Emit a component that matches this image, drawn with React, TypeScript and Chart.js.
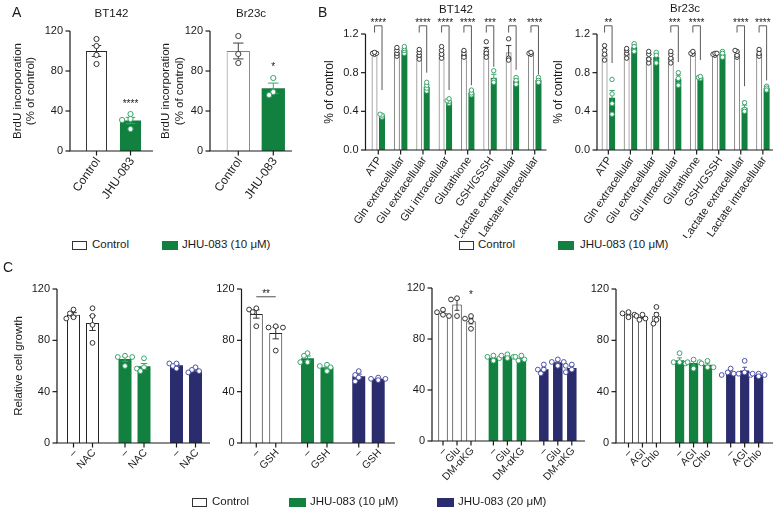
import React, { useEffect, useRef } from 'react';
import { Chart, registerables } from 'chart.js';

Chart.register(...registerables);

const FONT = '"Liberation Sans", Arial, Helvetica, sans-serif';
const INK = '#1a1a1a';

// ---------------- Panel A: BrdU incorporation (% of control) ----------------
const brduCategories = ['Control', 'JHU-083'];
const brduTicks = [0, 40, 80, 120];
const bt142BrduControl = [112, 105, 96, 87];
const bt142BrduJhu = [37, 32, 31, 22];
const br23cBrduControl = [115, 97, 88];
const br23cBrduJhu = [73, 59, 56];
const bt142BrduStars = [{ cat: 1, text: '****', at: 50 }];
const br23cBrduStars = [{ cat: 1, text: '*', at: 87 }];

// ---------------- Panel B: metabolites (% of control) ----------------
const metabolites = [
  'ATP', 'Gln extracellular', 'Glu extracellular', 'Glu intracellular',
  'Glutathione', 'GSH/GSSH', 'Lactate extracellular', 'Lactate intracellular',
];
const metTicks = [0, 0.4, 0.8, 1.2];
const bt142MetControl = [
  [0.99, 1.0, 1.0, 1.01], [0.97, 1.0, 1.03, 1.06], [0.94, 0.98, 1.01, 1.04], [0.95, 0.99, 1.03, 1.07],
  [0.96, 1.0, 1.03], [1.12, 1.03, 1.0, 0.96], [1.15, 0.95, 0.93], [0.99, 1.0, 1.01],
];
const bt142MetJhu = [
  [0.34, 0.36, 0.37], [1.0, 1.03, 1.05, 1.07], [0.61, 0.64, 0.67, 0.7], [0.48, 0.5, 0.51, 0.53],
  [0.57, 0.59, 0.62], [0.82, 0.72, 0.7], [0.75, 0.72, 0.68], [0.75, 0.72, 0.7],
];
const bt142MetStars = ['****', '', '****', '****', '****', '***', '**', '****'];
const bt142MetDrop = [0.62, 0, 0.8, 0.62, 0.67, 0.86, 0.83, 0.78];
const br23cMetControl = [
  [1.08, 1.03, 0.99, 0.93], [0.95, 1.0, 1.03, 1.05], [0.9, 0.94, 0.99, 1.02], [0.9, 0.95, 0.99, 1.02],
  [0.99, 1.0, 1.02], [0.98, 0.99, 1.0, 1.0], [0.96, 0.98, 1.02, 1.03], [0.97, 1.0, 1.04],
];
const br23cMetJhu = [
  [0.73, 0.58, 0.48, 0.37], [1.1, 1.07, 1.02], [1.01, 0.98, 0.9], [0.8, 0.74, 0.67],
  [0.74, 0.75, 0.76], [1.02, 1.0, 0.96], [0.49, 0.42, 0.4], [0.66, 0.64, 0.62],
];
const br23cMetStars = ['**', '', '', '***', '****', '', '****', '****'];
const br23cMetDrop = [0.9, 0, 0, 0.91, 0.93, 0, 0.66, 0.72];
const bracketTop = 1.285;
const bracketLeftEnd = 1.215;
const bracketStarLevel = 1.34;

// ---------------- Panel C: relative cell growth ----------------
const growthTicks = [0, 40, 80, 120];
const cGroups = ['Control', 'JHU-083 (10 μM)', 'JHU-083 (20 μM)'];
const nacTreatments = ['–', 'NAC'];
const nacControl = [[104, 101, 98, 97], [105, 99, 92, 78]];
const nacJhu10 = [[68, 67, 67, 60], [66, 59, 58, 56]];
const nacJhu20 = [[62, 62, 60, 58], [59, 57, 56, 55]];
const gshTreatments = ['–', 'GSH'];
const gshControl = [[105, 104, 102, 91], [91, 90, 90, 72]];
const gshJhu10 = [[70, 68, 63, 63], [61, 60, 59, 56]];
const gshJhu20 = [[56, 53, 51, 48], [51, 50, 50, 49]];
const gshSig = [{ cat: 0, from: 0, to: 1, text: '**', at: 114, starAt: 118 }];
const akgTreatments = ['–', 'Glu', 'DM-αKG'];
const akgControl = [[103, 101, 99, 98], [112, 111, 98], [98, 96, 94, 88]];
const akgJhu10 = [[67, 66, 65, 63], [68, 67, 66, 65], [67, 66, 64, 63]];
const akgJhu20 = [[60, 56, 56, 53], [64, 62, 62, 59], [60, 59, 56, 54]];
const akgStars = [{ cat: 0, series: 2, text: '*', at: 117 }];
const agiTreatments = ['–', 'AGI', 'Chlo'];
const agiControl = [[102, 101, 100, 98], [100, 99, 97, 96], [106, 100, 96, 93]];
const agiJhu10 = [[70, 63, 63, 62], [65, 63, 63, 58], [64, 62, 59, 59]];
const agiJhu20 = [[58, 55, 54, 53], [64, 55, 54, 53], [54, 54, 53, 52]];

// ---------------- helpers ----------------
const mean = (a: number[]) => a.reduce((s, v) => s + v, 0) / a.length;
const sem = (a: number[]) => {
  if (a.length < 2) return 0;
  const m = mean(a);
  const sd = Math.sqrt(a.reduce((s, v) => s + (v - m) * (v - m), 0) / (a.length - 1));
  return sd / Math.sqrt(a.length);
};

type Style = { fill: string; edge: string; bw: number; mark: string };
const ST: Record<string, Style> = {
  ctrlDark: { fill: '#ffffff', edge: '#262626', bw: 1, mark: '#333333' },
  ctrlGray: { fill: '#ffffff', edge: '#808080', bw: 1, mark: '#404040' },
  ctrlB: { fill: '#ffffff', edge: '#8c8c8c', bw: 1.2, mark: '#3a3a3a' },
  green: { fill: '#12803e', edge: '#12803e', bw: 0, mark: '#3aa56a' },
  navy: { fill: '#2b2c6d', edge: '#2b2c6d', bw: 0, mark: '#4d51a8' },
};

type Series = { label: string; points: number[][]; styles: Style[] };
type Spec = {
  key: string;
  box: { left: number; top: number; width: number; height: number };
  area: { left: number; right: number; top: number; bottom: number };
  axisX: number; axisEnd: number;
  labels: string[]; xMode: 'category' | 'bar';
  series: Series[];
  catPct: number; barPct: number;
  yTicks: number[]; yDec: number;
  title?: string; titleY?: number;
  yTitle?: string[]; yTitleX?: number[]; yTitleFs?: number;
  tickFs: number; xFs: number; rot: number;
  r: number; step: number; gap: number; capFrac: number;
  sig: any[];
};

function drawStars(ctx: CanvasRenderingContext2D, text: string, x: number, yc: number, fs: number) {
  ctx.font = `${fs}px ${FONT}`;
  ctx.fillStyle = INK;
  ctx.textAlign = 'center';
  ctx.textBaseline = 'alphabetic';
  ctx.fillText(text, x, yc + 0.58 * fs);
}

function makeFig(spec: Spec) {
  return {
    id: 'fig_' + spec.key,
    afterDatasetsDraw(chart: any) {
      const ctx: CanvasRenderingContext2D = chart.ctx;
      const xs = chart.scales.x;
      const ys = chart.scales.y;
      const ox = spec.box.left;
      const oy = spec.box.top;
      const ax = spec.axisX - ox;
      const ae = spec.axisEnd - ox;
      const y0 = ys.getPixelForValue(0);
      const yTop = ys.getPixelForValue(spec.yTicks[spec.yTicks.length - 1]);
      const barAt = (si: number, ci: number) => chart.getDatasetMeta(si).data[ci];
      ctx.save();

      // error bars (mean ± SEM)
      spec.series.forEach((s, si) => s.points.forEach((pts, ci) => {
        const bar = barAt(si, ci);
        const m = mean(pts);
        const e = sem(pts);
        if (!e) return;
        const hi = ys.getPixelForValue(m + e);
        const lo = ys.getPixelForValue(m - e);
        const cw = (bar.width * spec.capFrac) / 2;
        ctx.strokeStyle = s.styles[ci].mark;
        ctx.lineWidth = 1;
        ctx.beginPath();
        ctx.moveTo(bar.x, hi); ctx.lineTo(bar.x, lo);
        ctx.moveTo(bar.x - cw, hi); ctx.lineTo(bar.x + cw, hi);
        ctx.moveTo(bar.x - cw, lo); ctx.lineTo(bar.x + cw, lo);
        ctx.stroke();
      }));

      // individual replicate points (simple swarm)
      spec.series.forEach((s, si) => s.points.forEach((pts, ci) => {
        const bar = barAt(si, ci);
        const placed: { dx: number; py: number }[] = [];
        pts.forEach((v) => {
          const py = ys.getPixelForValue(v);
          for (const k of [0, -1, 1, -2, 2, -3, 3]) {
            const dx = k * spec.step;
            if (placed.every((p) => Math.hypot(p.dx - dx, p.py - py) >= spec.gap)) {
              placed.push({ dx, py });
              return;
            }
          }
          placed.push({ dx: 0, py });
        });
        ctx.lineWidth = 1;
        ctx.strokeStyle = s.styles[ci].mark;
        ctx.fillStyle = '#ffffff';
        placed.forEach((p) => {
          ctx.beginPath();
          ctx.arc(bar.x + p.dx, p.py, spec.r, 0, Math.PI * 2);
          ctx.fill();
          ctx.stroke();
        });
      }));

      // axes
      ctx.strokeStyle = INK;
      ctx.lineWidth = 1.2;
      ctx.beginPath();
      ctx.moveTo(ax, y0 + 0.6);
      ctx.lineTo(ax, yTop);
      ctx.moveTo(ax - 0.6, y0);
      ctx.lineTo(ae, y0);
      ctx.stroke();

      // y ticks
      ctx.font = `${spec.tickFs}px ${FONT}`;
      ctx.fillStyle = INK;
      ctx.textAlign = 'right';
      ctx.textBaseline = 'middle';
      ys.ticks.forEach((t: any) => {
        const py = ys.getPixelForValue(t.value);
        ctx.beginPath();
        ctx.moveTo(ax - 4.5, py);
        ctx.lineTo(ax, py);
        ctx.stroke();
        ctx.fillText(Number(t.value).toFixed(spec.yDec), ax - 7, py);
      });

      // x ticks + rotated labels
      const xTicks: { x: number; text: string }[] = [];
      if (spec.xMode === 'category') {
        spec.labels.forEach((l, i) => xTicks.push({ x: xs.getPixelForValue(i), text: l }));
      } else {
        spec.labels.forEach((_, ci) => spec.series.forEach((s, si) => xTicks.push({ x: barAt(si, ci).x, text: s.label })));
      }
      ctx.font = `${spec.xFs}px ${FONT}`;
      xTicks.forEach((t) => {
        ctx.beginPath();
        ctx.moveTo(t.x, y0);
        ctx.lineTo(t.x, y0 + 4.5);
        ctx.stroke();
        ctx.save();
        ctx.translate(t.x + 1.5, y0 + 8);
        ctx.rotate((-spec.rot * Math.PI) / 180);
        ctx.textAlign = 'right';
        ctx.textBaseline = 'middle';
        ctx.fillText(t.text, 0, 0);
        ctx.restore();
      });

      // chart title
      if (spec.title) {
        ctx.font = `${11.5}px ${FONT}`;
        ctx.textAlign = 'center';
        ctx.textBaseline = 'middle';
        ctx.fillText(spec.title, (ax + ae) / 2, (spec.titleY as number) - oy);
      }

      // y title
      if (spec.yTitle) {
        ctx.font = `${spec.yTitleFs}px ${FONT}`;
        spec.yTitle.forEach((line, i) => {
          ctx.save();
          ctx.translate((spec.yTitleX as number[])[i] - ox, (y0 + yTop) / 2);
          ctx.rotate(-Math.PI / 2);
          ctx.textAlign = 'center';
          ctx.textBaseline = 'middle';
          ctx.fillText(line, 0, 0);
          ctx.restore();
        });
      }

      // significance marks
      spec.sig.forEach((g: any) => {
        if (g.kind === 'star') {
          const bar = barAt(g.si, g.ci);
          drawStars(ctx, g.text, bar.x, ys.getPixelForValue(g.at), 10);
        } else if (g.kind === 'bracket') {
          const l = barAt(0, g.ci).x;
          const r = barAt(1, g.ci).x;
          const top = ys.getPixelForValue(bracketTop);
          ctx.strokeStyle = '#5a5a5a';
          ctx.lineWidth = 1;
          ctx.beginPath();
          ctx.moveTo(l, ys.getPixelForValue(bracketLeftEnd));
          ctx.lineTo(l, top);
          ctx.lineTo(r, top);
          ctx.lineTo(r, ys.getPixelForValue(g.drop));
          ctx.stroke();
          drawStars(ctx, g.text, (l + r) / 2, ys.getPixelForValue(bracketStarLevel), 10);
        } else if (g.kind === 'line') {
          const l = barAt(g.from, g.ci).x;
          const r = barAt(g.to, g.ci).x;
          const py = ys.getPixelForValue(g.at);
          ctx.strokeStyle = '#7a7a7a';
          ctx.lineWidth = 1.3;
          ctx.beginPath();
          ctx.moveTo(l, py);
          ctx.lineTo(r, py);
          ctx.stroke();
          drawStars(ctx, g.text, (l + r) / 2, ys.getPixelForValue(g.starAt), 10);
        }
      });
      ctx.restore();
    },
  };
}

function buildConfig(spec: Spec): any {
  const { box, area } = spec;
  return {
    type: 'bar',
    data: {
      labels: spec.labels,
      datasets: spec.series.map((s) => ({
        label: s.label,
        data: s.points.map(mean),
        backgroundColor: s.styles.map((st) => st.fill),
        borderColor: s.styles.map((st) => st.edge),
        borderWidth: s.styles.map((st) => st.bw),
        borderSkipped: 'start',
        categoryPercentage: spec.catPct,
        barPercentage: spec.barPct,
      })),
    },
    options: {
      responsive: false,
      animation: false,
      devicePixelRatio: 1,
      events: [],
      layout: {
        padding: {
          left: area.left - box.left,
          right: box.left + box.width - area.right,
          top: area.top - box.top,
          bottom: box.top + box.height - area.bottom,
        },
      },
      scales: {
        x: { type: 'category', display: false, offset: true, grid: { display: false } },
        y: {
          type: 'linear',
          display: false,
          min: spec.yTicks[0],
          max: spec.yTicks[spec.yTicks.length - 1],
          afterBuildTicks: (s: any) => { s.ticks = spec.yTicks.map((v) => ({ value: v })); },
        },
      },
      plugins: { legend: { display: false }, tooltip: { enabled: false }, title: { display: false } },
    },
    plugins: [makeFig(spec)],
  };
}

function ChartBox({ spec }: { spec: Spec }) {
  const ref = useRef<HTMLCanvasElement>(null);
  useEffect(() => {
    const chart = new Chart(ref.current as HTMLCanvasElement, buildConfig(spec));
    return () => chart.destroy();
  }, []);
  const { left, top, width, height } = spec.box;
  return (
    <canvas
      ref={ref}
      width={width}
      height={height}
      style={{ position: 'absolute', left, top, width, height }}
    />
  );
}

const brackets = (stars: string[], drops: number[]) =>
  stars.map((t, i) => (t ? { kind: 'bracket', ci: i, text: t, drop: drops[i] } : null)).filter(Boolean);

const cSeries = (treat: string[], ctrl: number[][], j10: number[][], j20: number[][]): Series[] =>
  treat.map((t, ti) => ({ label: t, points: [ctrl[ti], j10[ti], j20[ti]], styles: [ST.ctrlDark, ST.green, ST.navy] }));

const base = { tickFs: 11, capFrac: 0.5 };

const specs: Spec[] = [
  {
    ...base, key: 'a1',
    box: { left: 0, top: 0, width: 160, height: 235 },
    area: { left: 79.5, right: 147.5, top: 31, bottom: 151 },
    axisX: 70, axisEnd: 153,
    labels: brduCategories, xMode: 'category',
    series: [{ label: 'BT142', points: [bt142BrduControl, bt142BrduJhu], styles: [ST.ctrlDark, ST.green] }],
    catPct: 1, barPct: 0.62, yTicks: brduTicks, yDec: 0,
    title: 'BT142', titleY: 14,
    yTitle: ['BrdU incorporation', '(% of control)'], yTitleX: [18, 31], yTitleFs: 11.5,
    xFs: 12, rot: 55, r: 2.6, step: 4.2, gap: 4.8, capFrac: 0.45,
    sig: bt142BrduStars.map((s) => ({ kind: 'star', si: 0, ci: s.cat, text: s.text, at: s.at })),
  },
  {
    ...base, key: 'a2',
    box: { left: 150, top: 0, width: 150, height: 235 },
    area: { left: 220.8, right: 290.8, top: 31, bottom: 151 },
    axisX: 210, axisEnd: 292,
    labels: brduCategories, xMode: 'category',
    series: [{ label: 'Br23c', points: [br23cBrduControl, br23cBrduJhu], styles: [ST.ctrlGray, ST.green] }],
    catPct: 1, barPct: 0.666, yTicks: brduTicks, yDec: 0,
    title: 'Br23c', titleY: 14,
    yTitle: ['BrdU incorporation', '(% of control)'], yTitleX: [166, 179.5], yTitleFs: 11.5,
    xFs: 12, rot: 55, r: 2.6, step: 4.2, gap: 4.8, capFrac: 0.45,
    sig: br23cBrduStars.map((s) => ({ kind: 'star', si: 0, ci: s.cat, text: s.text, at: s.at })),
  },
  {
    ...base, key: 'b1',
    box: { left: 318, top: 0, width: 232, height: 238 },
    area: { left: 367.1, right: 545.9, top: 34, bottom: 150 },
    axisX: 365.5, axisEnd: 546.5,
    labels: metabolites, xMode: 'category',
    series: [
      { label: 'Control', points: bt142MetControl, styles: metabolites.map(() => ST.ctrlB) },
      { label: 'JHU-083', points: bt142MetJhu, styles: metabolites.map(() => ST.green) },
    ],
    catPct: 0.67, barPct: 0.8, yTicks: metTicks, yDec: 1,
    title: 'BT142', titleY: 9.5,
    yTitle: ['% of control'], yTitleX: [330], yTitleFs: 12,
    xFs: 11, rot: 55, r: 2.2, step: 1, gap: 1.8, capFrac: 0.9,
    sig: brackets(bt142MetStars, bt142MetDrop),
  },
  {
    ...base, key: 'b2',
    box: { left: 540, top: 0, width: 234, height: 238 },
    area: { left: 597.3, right: 773.9, top: 34, bottom: 150 },
    axisX: 597, axisEnd: 773,
    labels: metabolites, xMode: 'category',
    series: [
      { label: 'Control', points: br23cMetControl, styles: metabolites.map(() => ST.ctrlB) },
      { label: 'JHU-083', points: br23cMetJhu, styles: metabolites.map(() => ST.green) },
    ],
    catPct: 0.68, barPct: 0.8, yTicks: metTicks, yDec: 1,
    title: 'Br23c', titleY: 9,
    yTitle: ['% of control'], yTitleX: [558.5], yTitleFs: 12,
    xFs: 11, rot: 55, r: 2.2, step: 1, gap: 1.8, capFrac: 0.9,
    sig: brackets(br23cMetStars, br23cMetDrop),
  },
  {
    ...base, key: 'c1',
    box: { left: 0, top: 258, width: 215, height: 232 },
    area: { left: 57.25, right: 211.75, top: 289, bottom: 443 },
    axisX: 57, axisEnd: 210,
    labels: cGroups, xMode: 'bar',
    series: cSeries(nacTreatments, nacControl, nacJhu10, nacJhu20),
    catPct: 0.738, barPct: 0.684, yTicks: growthTicks, yDec: 0,
    yTitle: ['Relative cell growth'], yTitleX: [18.5], yTitleFs: 11.5,
    xFs: 10.5, rot: 47, r: 2.4, step: 3.6, gap: 4.2,
    sig: [],
  },
  {
    ...base, key: 'c2',
    box: { left: 205, top: 258, width: 195, height: 232 },
    area: { left: 240.4, right: 394.1, top: 289, bottom: 443 },
    axisX: 241.5, axisEnd: 395,
    labels: cGroups, xMode: 'bar',
    series: cSeries(gshTreatments, gshControl, gshJhu10, gshJhu20),
    catPct: 0.76, barPct: 0.667, yTicks: growthTicks, yDec: 0,
    xFs: 10.5, rot: 47, r: 2.4, step: 3.6, gap: 4.2,
    sig: gshSig.map((s) => ({ kind: 'line', ci: s.cat, from: s.from, to: s.to, text: s.text, at: s.at, starAt: s.starAt })),
  },
  {
    ...base, key: 'c3',
    box: { left: 395, top: 258, width: 195, height: 232 },
    area: { left: 431.8, right: 583, top: 288, bottom: 441 },
    axisX: 432, axisEnd: 585,
    labels: cGroups, xMode: 'bar',
    series: cSeries(akgTreatments, akgControl, akgJhu10, akgJhu20),
    catPct: 0.833, barPct: 0.68, yTicks: growthTicks, yDec: 0,
    xFs: 10.5, rot: 47, r: 2.4, step: 3, gap: 4,
    sig: akgStars.map((s) => ({ kind: 'star', si: s.series, ci: s.cat, text: s.text, at: s.at })),
  },
  {
    ...base, key: 'c4',
    box: { left: 580, top: 258, width: 194, height: 232 },
    area: { left: 616.9, right: 770.2, top: 289, bottom: 443 },
    axisX: 616, axisEnd: 773,
    labels: cGroups, xMode: 'bar',
    series: cSeries(agiTreatments, agiControl, agiJhu10, agiJhu20),
    catPct: 0.82, barPct: 0.66, yTicks: growthTicks, yDec: 0,
    xFs: 10.5, rot: 47, r: 2.4, step: 3, gap: 4,
    sig: [],
  },
];

const LEG_FS = 11.5;

function LegendItem({ x, cy, w, fill, outline, text, tx }: any) {
  const h = 9;
  return (
    <>
      <div
        style={{
          position: 'absolute', left: x, top: cy - h / 2, width: w, height: h, boxSizing: 'border-box',
          background: fill, border: outline ? `1px solid ${outline}` : 'none',
        }}
      />
      <div
        style={{
          position: 'absolute', left: tx, top: cy - 0.49 * LEG_FS, fontSize: LEG_FS, lineHeight: `${LEG_FS}px`,
          whiteSpace: 'nowrap', color: INK,
        }}
      >
        {text}
      </div>
    </>
  );
}

function Letter({ x, capTop, text }: any) {
  const fs = 14;
  return (
    <div style={{ position: 'absolute', left: x, top: capTop - 0.13 * fs, fontSize: fs, lineHeight: `${fs}px`, color: INK }}>
      {text}
    </div>
  );
}

export default function App() {
  return (
    <div
      style={{
        position: 'absolute', left: 0, top: 0, width: 774, height: 510, background: '#ffffff',
        overflow: 'hidden', fontFamily: FONT,
      }}
    >
      {specs.map((s) => <ChartBox key={s.key} spec={s} />)}
      <Letter x={12} capTop={7} text="A" />
      <Letter x={318} capTop={7} text="B" />
      <Letter x={3} capTop={262} text="C" />
      <LegendItem x={72} cy={245} w={15} fill="#fff" outline="#333" text="Control" tx={92} />
      <LegendItem x={162} cy={245} w={16} fill={ST.green.fill} text={cGroups[1]} tx={182} />
      <LegendItem x={459} cy={245} w={15} fill="#fff" outline="#333" text="Control" tx={478} />
      <LegendItem x={558} cy={245} w={16} fill={ST.green.fill} text={cGroups[1]} tx={580} />
      <LegendItem x={192} cy={502} w={15} fill="#fff" outline="#333" text="Control" tx={212} />
      <LegendItem x={289} cy={502} w={17} fill={ST.green.fill} text={cGroups[1]} tx={310} />
      <LegendItem x={437} cy={502} w={16.5} fill={ST.navy.fill} text={cGroups[2]} tx={458} />
    </div>
  );
}
